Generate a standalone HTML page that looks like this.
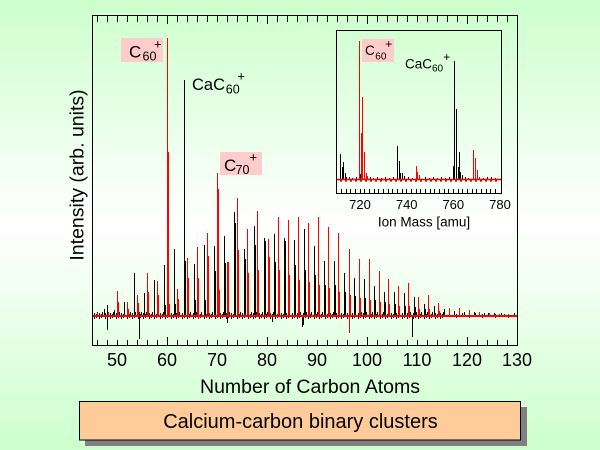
<!DOCTYPE html>
<html><head><meta charset="utf-8"><style>
html,body{margin:0;padding:0;}
body{width:600px;height:450px;overflow:hidden;background:linear-gradient(#ccffcc 0%,#ffffff 50%,#ccffcc 100%);}
svg{display:block;font-family:"Liberation Sans",Arial,sans-serif;}
</style></head><body>
<svg width="600" height="450" viewBox="0 0 600 450" xmlns="http://www.w3.org/2000/svg">
<defs>
<pattern id="n1" patternUnits="userSpaceOnUse" x="0" y="0" width="11" height="450">
<path d="M0.5 313V319M2.5 314V318M3.5 312V316M6.5 313V319M8.5 314V318M9.5 312V316" stroke="#000" stroke-width="1" fill="none" shape-rendering="crispEdges"/>
</pattern>
<pattern id="n2" patternUnits="userSpaceOnUse" x="0" y="0" width="13" height="450">
<path d="M1.5 314V318M7.5 313V317" stroke="#000" stroke-width="1" fill="none" shape-rendering="crispEdges"/>
</pattern>
</defs>

<!-- main noise band -->
<rect x="94" y="308" width="350" height="14" fill="url(#n1)"/>
<rect x="444" y="308" width="72" height="14" fill="url(#n2)"/>

<!-- main black peaks -->
<path shape-rendering="crispEdges" stroke="#000" stroke-width="1" fill="none" d="M104.5 316V309M107.5 330V305M114.5 316V310M124.5 316V302M134.5 316V273M139.5 339V312M144.5 316V293M154.5 316V280M164.5 316V265M165.5 316V305M174.5 316V249M175.5 316V304M184.5 316V80M185.5 316V261M194.5 316V264M195.5 316V300M204.5 316V245M205.5 316V300M214.5 316V246M215.5 316V271M224.5 316V236M225.5 316V263M227.5 323V316M234.5 316V212M235.5 316V223M244.5 316V249M245.5 316V259M254.5 316V226M255.5 316V245M264.5 316V238M265.5 316V241M272.5 322V316M274.5 316V234M275.5 316V262M284.5 316V238M285.5 316V241M294.5 316V240M295.5 316V265M302.5 327V316M303.5 325V316M304.5 316V229M305.5 316V270M314.5 316V246M315.5 316V275M324.5 316V261M325.5 316V285M334.5 316V261M335.5 316V285M344.5 316V273M345.5 316V292M354.5 316V278M355.5 316V296M364.5 316V279M365.5 316V298M374.5 316V286M375.5 316V300M384.5 316V292M385.5 316V302M394.5 316V292M395.5 316V304M404.5 316V293M405.5 316V306M412.5 337V316M414.5 316V297M415.5 316V307M424.5 316V304M425.5 316V309M434.5 316V306M444.5 316V309M454.5 316V311M464.5 316V312M474.5 316V312M484.5 316V313M494.5 316V313M504.5 316V314"/>

<!-- main red peaks -->
<path shape-rendering="crispEdges" stroke="#ff0000" stroke-width="1" fill="none" d="M97.5 316V313M108.5 316V312M117.5 316V291M118.5 316V302M127.5 316V302M128.5 316V309M137.5 316V295M138.5 316V303M147.5 316V273M148.5 316V292M157.5 316V281M158.5 316V295M167.5 316V38M168.5 316V152M169.5 316V304M177.5 316V289M178.5 316V299M187.5 316V258M188.5 316V278M197.5 316V247M198.5 319V278M207.5 316V233M208.5 316V256M217.5 316V173M218.5 316V189M219.5 316V290M227.5 316V262M228.5 316V262M237.5 316V198M238.5 316V250M247.5 316V229M248.5 316V273M257.5 316V211M258.5 316V270M268.5 316V239M269.5 316V257M278.5 316V217M279.5 316V270M288.5 316V220M289.5 316V275M298.5 316V217M299.5 316V280M308.5 316V223M309.5 316V282M318.5 316V217M319.5 316V285M328.5 316V227M329.5 316V288M338.5 316V233M339.5 316V292M349.5 333V249M350.5 316V295M359.5 316V259M360.5 316V298M369.5 316V259M370.5 316V300M379.5 316V271M380.5 316V302M388.5 316V279M389.5 316V304M398.5 316V286M399.5 316V306M408.5 316V283M409.5 316V306M418.5 316V297M419.5 316V309M428.5 316V295M429.5 316V309M438.5 316V303M439.5 316V311M449.5 316V308M459.5 316V308M469.5 316V310M479.5 316V312M489.5 316V313M499.5 316V314M508.5 316V314"/>

<!-- red baseline -->
<rect x="93" y="315" width="424" height="2" fill="#ff0000"/>

<!-- main frame -->
<rect x="92.5" y="15.5" width="425" height="330" fill="none" stroke="#000" stroke-width="1" shape-rendering="crispEdges"/>
<!-- bottom ticks -->
<path shape-rendering="crispEdges" stroke="#000" stroke-width="1" fill="none" d="M97.5 346V340M107.5 346V340M117.5 346V340M127.5 346V340M137.5 346V340M147.5 346V340M157.5 346V340M167.5 346V337M177.5 346V340M187.5 346V340M197.5 346V340M207.5 346V340M217.5 346V340M227.5 346V340M237.5 346V340M247.5 346V340M257.5 346V340M267.5 346V337M277.5 346V340M287.5 346V340M297.5 346V340M307.5 346V340M317.5 346V340M327.5 346V340M337.5 346V340M347.5 346V340M357.5 346V340M367.5 346V337M377.5 346V340M387.5 346V340M397.5 346V340M407.5 346V340M417.5 346V340M427.5 346V340M437.5 346V340M447.5 346V340M457.5 346V340M467.5 346V337M477.5 346V340M487.5 346V340M497.5 346V340M507.5 346V340"/>
<!-- top ticks -->
<path shape-rendering="crispEdges" stroke="#000" stroke-width="1" fill="none" d="M97.5 16V22M107.5 16V22M117.5 16V22M127.5 16V22M137.5 16V22M147.5 16V22M157.5 16V22M167.5 16V24M177.5 16V22M187.5 16V22M197.5 16V22M207.5 16V22M217.5 16V22M227.5 16V22M237.5 16V22M247.5 16V22M257.5 16V22M267.5 16V24M277.5 16V22M287.5 16V22M297.5 16V22M307.5 16V22M317.5 16V22M327.5 16V22M337.5 16V22M347.5 16V22M357.5 16V22M367.5 16V24M377.5 16V22M387.5 16V22M397.5 16V22M407.5 16V22M417.5 16V22M427.5 16V22M437.5 16V22M447.5 16V22M457.5 16V22M467.5 16V24M477.5 16V22M487.5 16V22M497.5 16V22M507.5 16V22"/>

<!-- x tick labels -->
<g font-size="18" text-anchor="middle" fill="#000">
<text x="117" y="366">50</text>
<text x="167" y="366">60</text>
<text x="217" y="366">70</text>
<text x="267" y="366">80</text>
<text x="317" y="366">90</text>
<text x="367" y="366">100</text>
<text x="417" y="366">110</text>
<text x="467" y="366">120</text>
<text x="517" y="366">130</text>
</g>
<text x="310" y="393" font-size="19.5" text-anchor="middle" fill="#000">Number of Carbon Atoms</text>
<text transform="translate(83.5,175) rotate(-90)" x="0" y="0" font-size="19.5" text-anchor="middle" fill="#000">Intensity (arb. units)</text>

<!-- main labels -->
<rect x="121" y="38" width="42" height="24" fill="#ffcccc"/>
<text x="129" y="57.3" font-size="17" fill="#000">C</text>
<text x="142.5" y="60.7" font-size="12.5" fill="#000">60</text>
<text x="157.8" y="48.6" font-size="13" text-anchor="middle" fill="#000">+</text>

<text x="192" y="90" font-size="16.5" fill="#000">CaC</text>
<text x="225.8" y="93.3" font-size="12.5" fill="#000">60</text>
<text x="241.2" y="80.6" font-size="13" text-anchor="middle" fill="#000">+</text>

<rect x="220" y="152" width="42" height="23" fill="#ffcccc"/>
<text x="224" y="171" font-size="17" fill="#000">C</text>
<text x="235.5" y="174" font-size="12.5" fill="#000">70</text>
<text x="253.3" y="161.3" font-size="13" text-anchor="middle" fill="#000">+</text>

<!-- inset -->
<path shape-rendering="crispEdges" stroke="#000" stroke-width="1" fill="none" d="M340.5 179V154M342.5 179V167M343.5 179V162M345.5 179V173M346.5 179V177M349.5 179V177M352.5 179V178M356.5 179V177M360.5 179V174M370.5 179V177M373.5 179V178M377.5 179V177M381.5 179V178M385.5 179V177M389.5 179V178M393.5 179V177M397.5 179V146M399.5 179V161M400.5 179V173M402.5 179V173M404.5 179V176M408.5 179V177M412.5 179V178M425.5 179V177M429.5 179V178M433.5 179V177M437.5 179V178M441.5 179V177M445.5 179V178M449.5 179V177M453.5 179V166M454.5 179V61M456.5 179V109M458.5 179V167M459.5 179V152M460.5 179V172M462.5 179V175M465.5 179V177M468.5 179V178M483.5 179V178M487.5 179V177M491.5 179V177M495.5 179V178"/>
<line x1="340" y1="181" x2="500" y2="181" stroke="#000" stroke-width="1" stroke-dasharray="2,3" shape-rendering="crispEdges"/>
<path shape-rendering="crispEdges" stroke="#ff0000" stroke-width="1" fill="none" d="M359.5 179V41M361.5 179V133M362.5 179V97M364.5 179V152M366.5 179V173M367.5 179V176M416.5 179V166M417.5 179V172M419.5 179V175M473.5 179V150M475.5 179V158M477.5 179V170M479.5 179V177"/>
<rect x="337" y="178.7" width="164" height="1.6" fill="#ff0000"/>
<rect x="336.5" y="30.5" width="165" height="163" fill="none" stroke="#000" stroke-width="1" shape-rendering="crispEdges"/>
<path shape-rendering="crispEdges" stroke="#000" stroke-width="1" fill="none" d="M341.5 194V189M346.5 194V189M350.5 194V189M355.5 194V189M360.5 194V189M364.5 194V189M369.5 194V189M374.5 194V189M378.5 194V189M383.5 194V189M388.5 194V189M392.5 194V189M397.5 194V189M402.5 194V189M406.5 194V189M411.5 194V189M416.5 194V189M420.5 194V189M425.5 194V189M430.5 194V189M434.5 194V189M439.5 194V189M444.5 194V189M448.5 194V189M453.5 194V189M458.5 194V189M462.5 194V189M467.5 194V189M472.5 194V189M476.5 194V189M481.5 194V189M486.5 194V189M490.5 194V189M495.5 194V189"/>
<g font-size="13" text-anchor="middle" fill="#000">
<text x="360" y="209">720</text>
<text x="406.7" y="209">740</text>
<text x="453.3" y="209">760</text>
<text x="500" y="209">780</text>
</g>
<text x="424" y="226.7" font-size="13.5" text-anchor="middle" fill="#000">Ion Mass [amu]</text>

<rect x="362" y="39" width="32" height="23" fill="#ffcccc"/>
<text x="365" y="55" font-size="13.5" fill="#000">C</text>
<text x="375.3" y="59.3" font-size="10" fill="#000">60</text>
<text x="388.8" y="48" font-size="12" text-anchor="middle" fill="#000">+</text>

<text x="405" y="68.3" font-size="13.5" fill="#000">CaC</text>
<text x="432" y="71.7" font-size="10" fill="#000">60</text>
<text x="446.7" y="61" font-size="12" text-anchor="middle" fill="#000">+</text>

<!-- caption box -->
<rect x="85" y="407" width="442" height="39" fill="#808080"/>
<rect x="79.5" y="401.5" width="441" height="38.5" fill="#ffcc99" stroke="#000" stroke-width="1" shape-rendering="crispEdges"/>
<text x="300.5" y="428" font-size="20" text-anchor="middle" fill="#000">Calcium-carbon binary clusters</text>
</svg>
</body></html>
